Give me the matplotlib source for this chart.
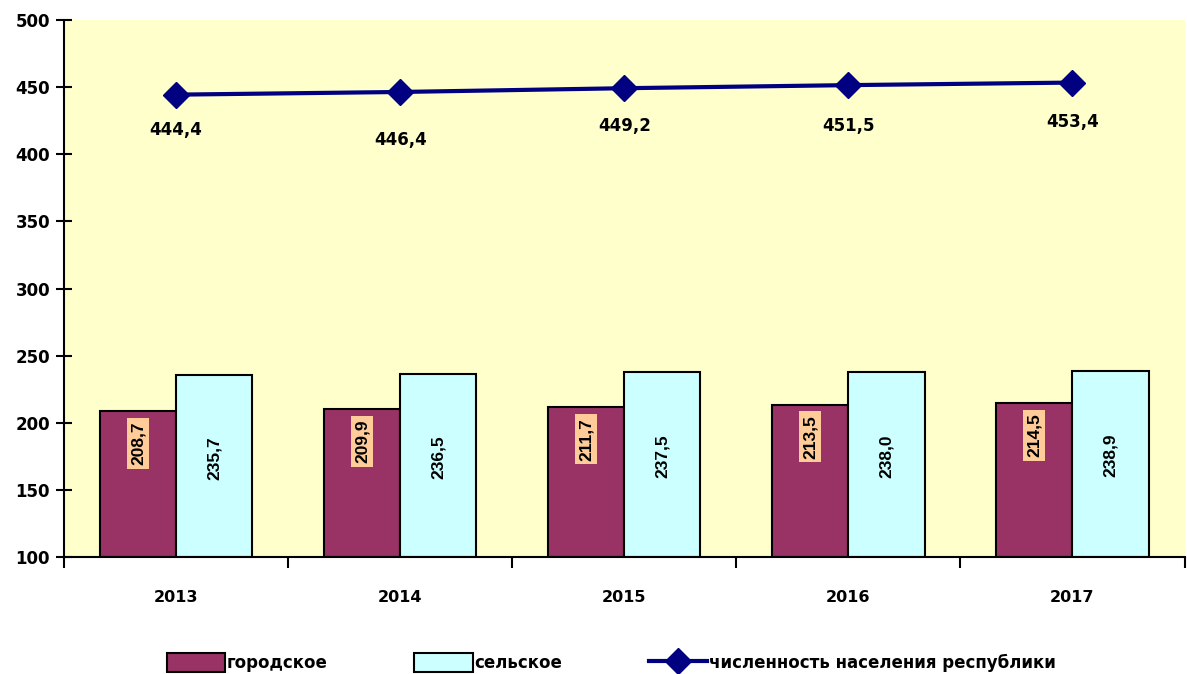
import numpy as np
import matplotlib.pyplot as plt
from matplotlib.ticker import FixedLocator

years = ['2013', '2014', '2015', '2016', '2017']
urban = [208.7, 209.9, 211.7, 213.5, 214.5]
rural = [235.7, 236.5, 237.5, 238.0, 238.9]
total = [444.4, 446.4, 449.2, 451.5, 453.4]

def fmt(v):
    return f'{v:.1f}'.replace('.', ',')

plt.rcParams['font.family'] = ['DejaVu Sans']
narrow = ['Liberation Sans Narrow', 'DejaVu Sans Condensed', 'Liberation Sans']

fig = plt.figure(figsize=(11.87, 6.74), dpi=100)
ax = fig.add_axes([0.0539, 0.1736, 0.944, 0.7967])
ax.set_facecolor('#FFFFCC')

x = np.arange(len(years))
w = 0.34
b1 = ax.bar(x - w / 2, np.array(urban) - 100, w, bottom=100, color='#993366',
            edgecolor='black', linewidth=1.5, label='городское', zorder=2)
b2 = ax.bar(x + w / 2, np.array(rural) - 100, w, bottom=100, color='#CCFFFF',
            edgecolor='black', linewidth=1.5, label='сельское', zorder=2)
ln, = ax.plot(x, total, color='#000080', linewidth=3, marker='D', markersize=13,
              label='численность населения республики', zorder=3)

for xi, v in zip(x, urban):
    ax.text(xi - w / 2, v - 24, fmt(v), rotation=90, ha='center', va='center',
            fontsize=12.5, fontweight='bold', family=narrow, zorder=4,
            bbox=dict(facecolor='#FFCC99', edgecolor='none', pad=2.5))
for xi, v in zip(x, rural):
    ax.text(xi + w / 2, (v + 100) / 2 + 6, fmt(v), rotation=90, ha='center',
            va='center', fontsize=12.5, fontweight='bold', family=narrow, zorder=4)
offs = [35, 48, 38, 41, 39]
for xi, v, o in zip(x, total, offs):
    ax.annotate(fmt(v), (xi, v), xytext=(0, -o), textcoords='offset pixels',
                ha='center', va='center', fontsize=12, fontweight='bold', zorder=4)

ax.set_xlim(-0.5, 4.5)
ax.set_ylim(100, 500)
ax.set_yticks(range(100, 501, 50))
ax.set_xticks(x)
ax.set_xticklabels(years, fontsize=11.5, fontweight='bold')
ax.xaxis.set_minor_locator(FixedLocator(np.arange(-0.5, 4.6, 1)))
ax.tick_params(axis='x', which='major', length=0, pad=24)
ax.tick_params(axis='x', which='minor', length=8, width=1.5, direction='out')
ax.tick_params(axis='y', length=12, width=1.5, direction='inout', pad=4,
               labelsize=12)
for lbl in ax.get_yticklabels():
    lbl.set_fontweight('bold')
for s in ['top', 'right']:
    ax.spines[s].set_visible(False)
ax.spines['left'].set_linewidth(1.5)
ax.spines['bottom'].set_linewidth(1.5)

fig.legend(handles=[b1, b2, ln], loc='lower center', bbox_to_anchor=(0.515, -0.02),
           ncol=3, frameon=False, prop={'weight': 'bold', 'size': 12},
           handlelength=3.5, handleheight=1.4, handletextpad=0.1, columnspacing=5.2)

fig.savefig('out.png', dpi=100)
